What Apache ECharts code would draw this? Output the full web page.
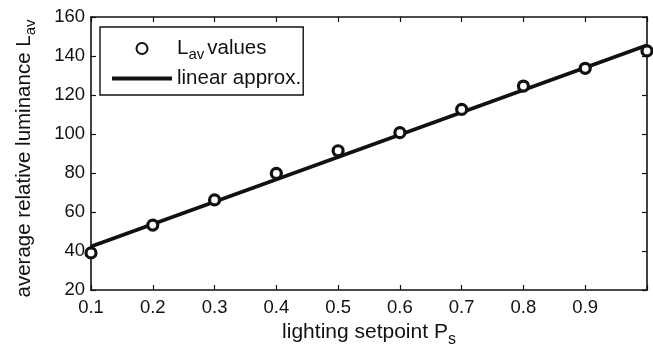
<!DOCTYPE html>
<html><head><meta charset="utf-8">
<script src="https://cdn.jsdelivr.net/npm/echarts@6/dist/echarts.min.js"></script>
<style>html,body{margin:0;padding:0;background:#fff}#c{width:653px;height:348px}</style>
</head><body><div id="c"></div>
<script>
const setpoints = [0.1, 0.2, 0.3, 0.4, 0.5, 0.6, 0.7, 0.8, 0.9, 1.0];
const lavValues = [39, 53.3, 66.2, 79.8, 91.4, 100.7, 112.6, 124.6, 133.7, 142.6];
const linearX = [0.1, 1.0];
const linearY = [42.3, 145.5];
const yTicks = [20, 40, 60, 80, 100, 120, 140, 160];

const FONT = 'Liberation Sans, Arial, sans-serif';
const INK = '#111';
const chart = echarts.init(document.getElementById('c'), null, {renderer: 'canvas'});
const axisCommon = {
  axisLine: {show: true, onZero: false, lineStyle: {color: INK, width: 1.6}},
  axisTick: {show: true, inside: true, length: 5, lineStyle: {color: INK, width: 1.2}},
  splitLine: {show: false}
};
chart.setOption({
  animation: false,
  grid: {left: 91, right: 6, top: 17, bottom: 58, containLabel: false, outerBoundsMode: 'none'},
  legend: {
    left: 100, top: 27, orient: 'vertical',
    itemWidth: 60, itemHeight: 11, itemGap: 6,
    padding: [11, 2, 6, 12],
    borderColor: INK, borderWidth: 1.4, borderRadius: 0,
    backgroundColor: '#fff',
    symbolKeepAspect: true,
    textStyle: {fontFamily: FONT, fontSize: 20.5, color: INK,
      rich: {
        sub: {fontFamily: FONT, fontSize: 15, padding: [12, 3, 0, 0], color: INK},
        n: {fontFamily: FONT, fontSize: 20.5, color: INK}
      }},
    formatter: function (n) { return n === 'lav' ? '{n|L}{sub|av}{n|values}' : '{n|linear approx.}'; },
    data: [
      {name: 'lav', icon: 'circle'},
      {name: 'lin', icon: 'path://M0 0L100 0L100 6.5L0 6.5Z'}
    ]
  },
  xAxis: [{
    type: 'value', min: 0.1, max: 1.0, interval: 0.1, position: 'bottom',
    ...axisCommon,
    axisLabel: {color: INK, fontFamily: FONT, fontSize: 18.5, margin: 8,
      formatter: v => (v > 0.95 ? '' : v.toFixed(1))},
    name: 'lighting setpoint P{sub|s}', nameLocation: 'middle', nameGap: 27,
    nameTextStyle: {color: INK, fontFamily: FONT, fontSize: 21,
      rich: {sub: {fontFamily: FONT, fontSize: 16, padding: [14, 0, 0, 0], color: INK}}}
  }, {
    type: 'value', min: 0.1, max: 1.0, interval: 0.1, position: 'top',
    ...axisCommon, axisLabel: {show: false}
  }],
  yAxis: [{
    type: 'value', min: 20, max: 160, interval: 20, position: 'left',
    ...axisCommon,
    axisLabel: {color: INK, fontFamily: FONT, fontSize: 18.5, margin: 6},
    name: 'average relative luminance L{sub|av}', nameLocation: 'middle', nameGap: 53,
    nameTextStyle: {color: INK, fontFamily: FONT, fontSize: 20.5, padding: [0, 10, 0, 0],
      rich: {sub: {fontFamily: FONT, fontSize: 15, padding: [12, 0, 0, 0], color: INK}}}
  }, {
    type: 'value', min: 20, max: 160, interval: 20, position: 'right',
    ...axisCommon, axisLabel: {show: false}
  }],
  series: [{
    name: 'lin', type: 'line', xAxisIndex: 0, yAxisIndex: 0,
    data: linearX.map((x, i) => [x, linearY[i]]),
    showSymbol: false, symbol: 'none',
    lineStyle: {color: INK, width: 3.8},
    itemStyle: {color: INK}, z: 2
  }, {
    name: 'lav', type: 'scatter', xAxisIndex: 0, yAxisIndex: 0,
    data: setpoints.map((x, i) => [x, lavValues[i]]),
    symbol: 'circle', symbolSize: 10,
    itemStyle: {color: '#fff', borderColor: INK, borderWidth: 3.2, opacity: 1},
    z: 3
  }]
});
</script></body></html>
